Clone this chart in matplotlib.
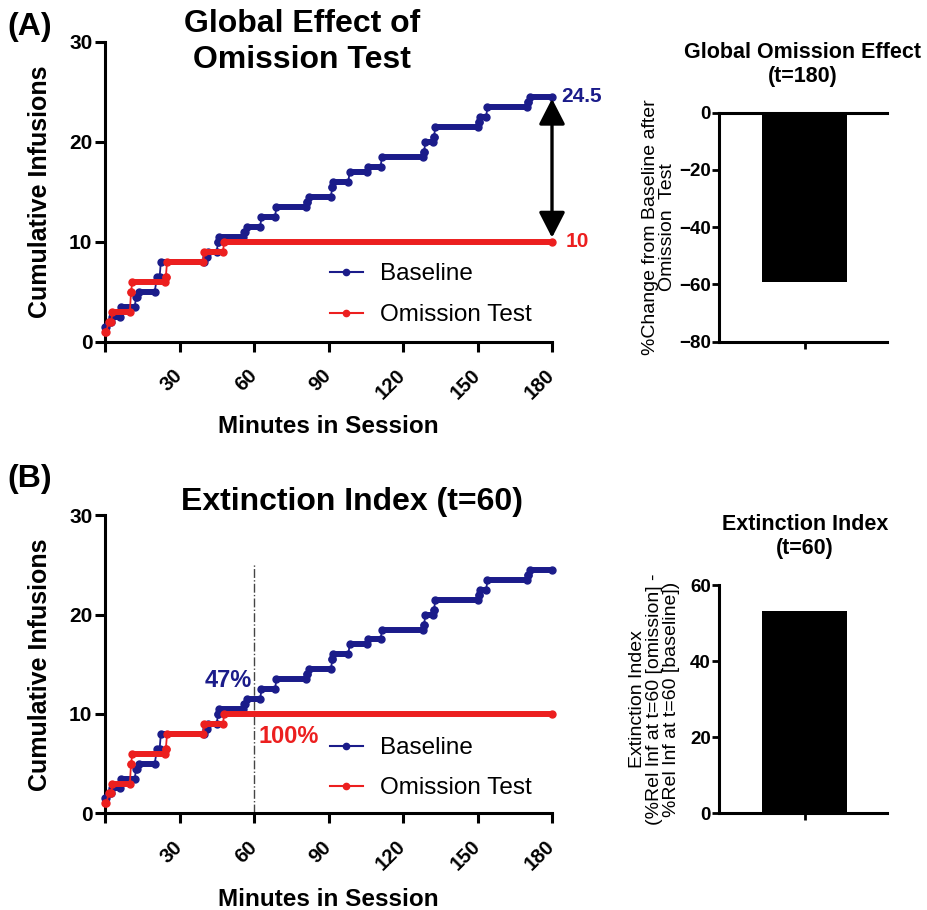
import matplotlib
matplotlib.use("Agg")
import matplotlib.pyplot as plt
from matplotlib.lines import Line2D
import numpy as np

# cumulative infusions: (start min, end min, level)
base_start = [0, 1.5, 3, 6.5, 12.5, 13.5, 21, 22.5, 40.5, 41.5, 45.5, 46, 56, 57, 63, 69,
              81.5, 82, 91.5, 92, 98.5, 106, 111.5, 128.5, 129, 132.5, 133, 150.5, 151,
              154, 170.5, 171]
base_end = [0.5, 2.5, 6, 12, 13, 20, 22, 40, 41, 45, 45.5, 55.5, 56.5, 62.5, 68.5, 81,
            81.5, 91, 91.5, 98, 105.5, 111, 128, 128.5, 132, 132.5, 150, 150.5, 153.5,
            170, 170.5, 180]
base_level = [1.5, 2.0, 2.5, 3.5, 4.5, 5.0, 6.5, 8.0, 8.5, 9.0, 10.0, 10.5, 11.0, 11.5,
              12.5, 13.5, 14.0, 14.5, 15.5, 16.0, 17.0, 17.5, 18.5, 19.0, 20.0, 20.5,
              21.5, 22.0, 22.5, 23.5, 24.0, 24.5]

omit_start = [0, 1.5, 3, 10.5, 11, 24.5, 25, 40, 48]
omit_end = [0.5, 2.5, 10, 10.5, 24, 24.5, 39.5, 47.5, 180]
omit_level = [1.0, 2.0, 3.0, 5.0, 6.0, 6.5, 8.0, 9.0, 10.0]

x_ticks = [0, 30, 60, 90, 120, 150, 180]
y_ticks = [0, 10, 20, 30]

global_effect = [-59.2]      # % change from baseline at t=180
extinction_index = [53.1]    # %rel inf omission - %rel inf baseline at t=60
pct_baseline_60 = "47%"
pct_omission_60 = "100%"

BLUE = "#1b1c8a"
RED = "#ec1f1f"

plt.rcParams["font.family"] = ["Liberation Sans", "DejaVu Sans"]

fig = plt.figure(figsize=(9.27, 9.10), dpi=100)


def draw_steps(ax, start, end, level, color, z):
    xs = np.column_stack([start, end]).ravel()
    ys = np.column_stack([level, level]).ravel()
    ax.plot(xs, ys, color=color, lw=1.3, zorder=z, clip_on=False)
    ax.hlines(level, start, end, color=color, lw=4.3, capstyle="round", zorder=z)
    ax.plot(xs, ys, ls="none", marker="o", ms=5, color=color, zorder=z, clip_on=False)


def style_time_axes(ax):
    ax.set_xlim(0, 180)
    ax.set_ylim(0, 30)
    for s in ["top", "right"]:
        ax.spines[s].set_visible(False)
    for s in ["left", "bottom"]:
        ax.spines[s].set_linewidth(2.2)
    ax.set_xticks(x_ticks)
    ax.set_xticklabels([""] + [str(t) for t in x_ticks[1:]])
    ax.set_yticks(y_ticks)
    ax.tick_params(length=7, width=2.2, labelsize=15, pad=2)
    ax.tick_params(axis="x", pad=15, labelsize=14.5)
    for lab in ax.get_xticklabels():
        lab.set_rotation(45)
        lab.set_ha("right")
        lab.set_va("center")
        lab.set_rotation_mode("anchor")
        lab.set_fontweight("bold")
    for lab in ax.get_yticklabels():
        lab.set_fontweight("bold")
    ax.set_xlabel("Minutes in Session", fontsize=17.5, fontweight="bold")
    ax.set_ylabel("Cumulative Infusions", fontsize=18, fontweight="bold")
    ax.yaxis.set_label_coords(-0.118, 0.5)
    draw_steps(ax, base_start, base_end, base_level, BLUE, 3)
    draw_steps(ax, omit_start, omit_end, omit_level, RED, 4)
    handles = [Line2D([], [], color=BLUE, lw=1.5, marker="o", ms=4.5),
               Line2D([], [], color=RED, lw=1.5, marker="o", ms=4.5)]
    return handles


def style_bar_axes(ax):
    ax.set_xlim(-1.0, 0.97)
    ax.spines["right"].set_visible(False)
    for s in ["left", "bottom", "top"]:
        ax.spines[s].set_linewidth(2.2)
    ax.set_xticks([0])
    ax.set_xticklabels([""])
    ax.tick_params(length=5, width=2.0, labelsize=13.5, pad=1)
    for lab in ax.get_yticklabels():
        lab.set_fontweight("bold")


# ---- (A) time course ----
axA = fig.add_axes([105 / 927, 1 - 341.7 / 910, 447 / 927, 300 / 910])
hA = style_time_axes(axA)
axA.xaxis.set_label_coords(0.5, -0.245)
axA.legend(hA, ["Baseline", "Omission Test"], loc="upper left",
           bbox_to_anchor=(0.503, 0.262), frameon=False, fontsize=17.5,
           handlelength=1.35, handletextpad=0.72, labelspacing=0.78,
           borderpad=0, borderaxespad=0)
top_val = base_level[-1]
low_val = omit_level[-1]
axA.annotate("", xy=(base_end[-1], low_val + 0.4), xytext=(base_end[-1], top_val - 0.2),
             arrowprops=dict(arrowstyle="<|-|>,head_length=0.78,head_width=0.4",
                             mutation_scale=20, color="black", lw=2.4,
                             shrinkA=0, shrinkB=0))
axA.annotate(f"{top_val:g}", xy=(base_end[-1], top_val), xytext=(7, 0),
             textcoords="offset points", color=BLUE, fontsize=15, fontweight="bold",
             ha="left", va="center", annotation_clip=False)
axA.annotate(f"{low_val:g}", xy=(omit_end[-1], low_val), xytext=(10, 0),
             textcoords="offset points", color=RED, fontsize=15, fontweight="bold",
             ha="left", va="center", annotation_clip=False)

fig.text(302 / 927, 1 - 9 / 910, "Global Effect of\nOmission Test", ha="center",
         va="top", fontsize=23, fontweight="bold", linespacing=1.28)
fig.text(7 / 927, 1 - 12 / 910, "(A)", ha="left", va="top", fontsize=23,
         fontweight="bold")

# ---- (A) bar ----
axA2 = fig.add_axes([719.3 / 927, 1 - 341.7 / 910, 168 / 927, 229 / 910])
style_bar_axes(axA2)
axA2.bar([0], global_effect, width=1.0, color="black")
axA2.set_ylim(-80, 0)
axA2.set_yticks([0, -20, -40, -60, -80])
axA2.set_ylabel("%Change from Baseline after\nOmission  Test", fontsize=14,
                linespacing=1.0)
axA2.yaxis.set_label_coords(-0.255, 0.5)
fig.text(803 / 927, 1 - 42 / 910, "Global Omission Effect\n(t=180)", ha="center",
         va="top", fontsize=15.5, fontweight="bold", linespacing=1.2)

# ---- (B) time course ----
axB = fig.add_axes([105 / 927, 1 - 813.3 / 910, 447 / 927, 298 / 910])
hB = style_time_axes(axB)
axB.xaxis.set_label_coords(0.5, -0.25)
axB.legend(hB, ["Baseline", "Omission Test"], loc="upper left",
           bbox_to_anchor=(0.503, 0.256), frameon=False, fontsize=17.5,
           handlelength=1.35, handletextpad=0.72, labelspacing=0.74,
           borderpad=0, borderaxespad=0)
axB.axvline(60, ymin=0, ymax=25.2 / 30, color="#444444", lw=1.0, ls="-.", zorder=2)
axB.text(59, 13.4, pct_baseline_60, color=BLUE, fontsize=17, fontweight="bold",
         ha="right", va="center")
axB.text(62, 7.7, pct_omission_60, color=RED, fontsize=17, fontweight="bold",
         ha="left", va="center")

fig.text(352 / 927, 1 - 510 / 910, "Extinction Index (t=60)", ha="center",
         va="baseline", fontsize=23, fontweight="bold")
fig.text(7 / 927, 1 - 464 / 910, "(B)", ha="left", va="top", fontsize=23,
         fontweight="bold")

# ---- (B) bar ----
axB2 = fig.add_axes([719.3 / 927, 1 - 813.3 / 910, 168 / 927, 228.3 / 910])
style_bar_axes(axB2)
axB2.spines["top"].set_visible(False)
axB2.bar([0], extinction_index, width=1.0, color="black")
axB2.set_ylim(0, 60)
axB2.set_yticks([0, 20, 40, 60])
axB2.set_ylabel("Extinction Index\n(%Rel Inf at t=60 [omission] -\n"
                "%Rel Inf at t=60 [baseline])", fontsize=14, linespacing=1.0)
axB2.yaxis.set_label_coords(-0.235, 0.5)
fig.text(805 / 927, 1 - 514 / 910, "Extinction Index\n(t=60)", ha="center",
         va="top", fontsize=15.5, fontweight="bold", linespacing=1.2)

fig.savefig("out.png", dpi=100)
